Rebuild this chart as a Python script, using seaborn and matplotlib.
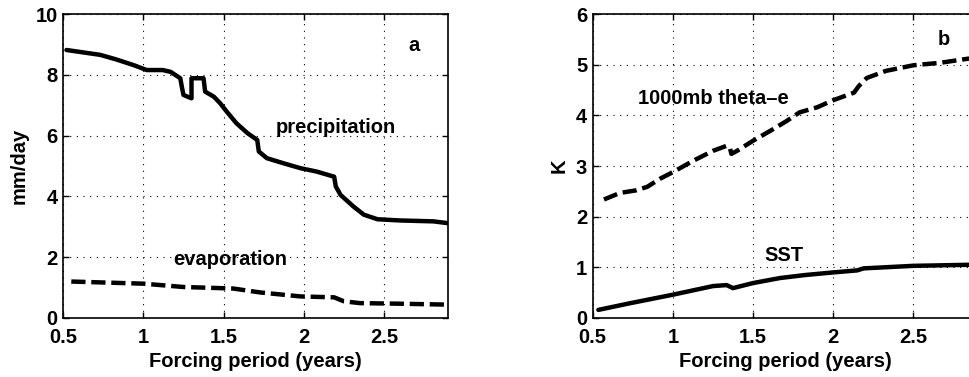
import matplotlib
matplotlib.use("Agg")
import matplotlib.pyplot as plt
import seaborn as sns
import pandas as pd

# Panel a: precipitation and evaporation (mm/day)
precip_x = [0.52, 0.73, 0.83, 0.94, 1.02, 1.12, 1.17, 1.23, 1.24, 1.25, 1.30, 1.30, 1.375, 1.385,
            1.44, 1.48, 1.52, 1.58, 1.65, 1.71, 1.72, 1.77, 1.875, 1.98, 2.08, 2.19, 2.20, 2.23,
            2.31, 2.375, 2.46, 2.60, 2.81, 2.90]
precip_y = [8.82, 8.66, 8.51, 8.32, 8.16, 8.16, 8.10, 7.89, 7.60, 7.34, 7.23, 7.89, 7.89, 7.45,
            7.28, 7.06, 6.79, 6.41, 6.08, 5.86, 5.48, 5.26, 5.09, 4.93, 4.82, 4.65, 4.33, 4.05,
            3.67, 3.40, 3.25, 3.21, 3.18, 3.12]
evap_x = [0.55, 1.00, 1.25, 1.56, 1.73, 1.98, 2.19, 2.25, 2.35, 2.60, 2.90]
evap_y = [1.20, 1.13, 1.02, 0.97, 0.84, 0.71, 0.68, 0.55, 0.49, 0.47, 0.44]

# Panel b: 1000mb theta-e and SST (K)
theta_x = [0.57, 0.67, 0.77, 0.84, 0.92, 1.00, 1.13, 1.25, 1.335, 1.355, 1.365, 1.40, 1.50, 1.61,
           1.71, 1.79, 1.90, 2.00, 2.13, 2.16, 2.21, 2.33, 2.50, 2.67, 2.84, 2.90]
theta_y = [2.34, 2.47, 2.52, 2.59, 2.75, 2.88, 3.11, 3.30, 3.40, 3.37, 3.24, 3.30, 3.50, 3.70,
           3.89, 4.06, 4.16, 4.30, 4.45, 4.58, 4.74, 4.88, 4.99, 5.04, 5.12, 5.13]
sst_x = [0.535, 0.73, 1.00, 1.25, 1.335, 1.375, 1.50, 1.67, 1.83, 2.00, 2.15, 2.19, 2.50, 2.84, 2.90]
sst_y = [0.16, 0.29, 0.46, 0.63, 0.65, 0.59, 0.69, 0.79, 0.85, 0.90, 0.94, 0.98, 1.03, 1.05, 1.05]

xticks = [0.5, 1, 1.5, 2, 2.5]
xtick_labels = ["0.5", "1", "1.5", "2", "2.5"]
yticks_a = [0, 2, 4, 6, 8, 10]
yticks_b = [0, 1, 2, 3, 4, 5, 6]

sns.set_style("ticks")
plt.rcParams['font.family'] = ['Liberation Sans', 'DejaVu Sans']
plt.rcParams['font.weight'] = 'bold'
plt.rcParams['text.color'] = 'black'
plt.rcParams['axes.labelcolor'] = 'black'

fig = plt.figure(figsize=(9.69, 3.77), dpi=100)
ax1 = fig.add_axes([0.0653, 0.1565, 0.397, 0.806])
ax2 = fig.add_axes([0.6117, 0.1565, 0.397, 0.806])

LW = 3.2
DASH = (3.2, 1.3)
FS = 14.5

def style(ax, yticks, ylim, ylabel):
    ax.set_xlim(0.5, 2.9)
    ax.set_ylim(*ylim)
    ax.set_xticks(xticks)
    ax.set_xticklabels(xtick_labels)
    ax.set_yticks(yticks)
    ax.set_yticklabels([str(t) for t in yticks])
    ax.grid(True, color='black', linestyle=(0, (1, 5)), linewidth=0.8)
    ax.tick_params(direction='in', length=4, width=1, labelsize=FS,
                   top=True, right=True, colors='black')
    ax.tick_params(axis='x', pad=7)
    ax.tick_params(axis='y', pad=4)
    for lab in ax.get_xticklabels() + ax.get_yticklabels():
        lab.set_fontweight('bold')
    for s in ax.spines.values():
        s.set_visible(True)
        s.set_linewidth(1.2)
        s.set_color('black')
    ax.set_xlabel("Forcing period (years)", fontsize=FS, fontweight='bold', labelpad=4,
                  color='black')
    ax.set_ylabel(ylabel, fontsize=FS, fontweight='bold', labelpad=5, color='black')

df_p = pd.DataFrame({"x": precip_x, "y": precip_y})
df_e = pd.DataFrame({"x": evap_x, "y": evap_y})
sns.lineplot(data=df_p, x="x", y="y", ax=ax1, color='black', linewidth=LW, sort=False,
             estimator=None)
sns.lineplot(data=df_e, x="x", y="y", ax=ax1, color='black', linewidth=LW, sort=False,
             estimator=None)
ax1.lines[-1].set_dashes(DASH)
style(ax1, yticks_a, (0, 10), "mm/day")
ax1.text(2.69, 8.98, "a", fontsize=FS, fontweight='bold', ha='center', va='center', color='black')
ax1.text(2.2, 6.28, "precipitation", fontsize=FS, fontweight='bold', ha='center', va='center',
         color='black')
ax1.text(1.54, 1.93, "evaporation", fontsize=FS, fontweight='bold', ha='center', va='center',
         color='black')

df_t = pd.DataFrame({"x": theta_x, "y": theta_y})
df_s = pd.DataFrame({"x": sst_x, "y": sst_y})
sns.lineplot(data=df_t, x="x", y="y", ax=ax2, color='black', linewidth=LW, sort=False,
             estimator=None)
ax2.lines[-1].set_dashes(DASH)
sns.lineplot(data=df_s, x="x", y="y", ax=ax2, color='black', linewidth=LW, sort=False,
             estimator=None)
style(ax2, yticks_b, (0, 6), "K")
ax2.text(2.69, 5.5, "b", fontsize=FS, fontweight='bold', ha='center', va='center', color='black')
ax2.text(1.25, 4.33, "1000mb theta\u2013e", fontsize=FS, fontweight='bold', ha='center',
         va='center', color='black')
ax2.text(1.69, 1.24, "SST", fontsize=FS, fontweight='bold', ha='center', va='center',
         color='black')

fig.savefig("out.png", dpi=100)
